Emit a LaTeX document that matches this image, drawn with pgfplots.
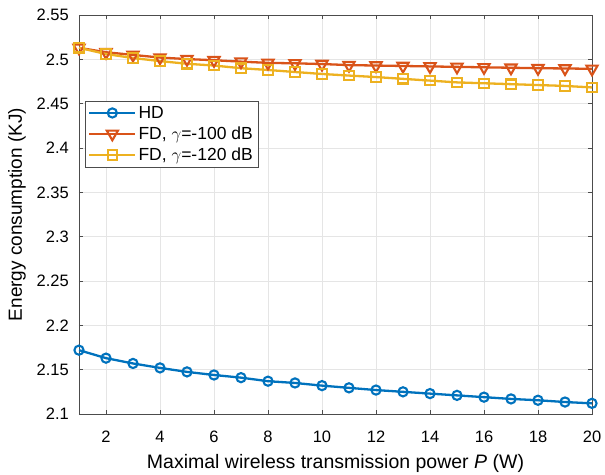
\documentclass[border=0pt]{standalone}
\usepackage{pgfplots}
\pgfplotsset{compat=1.18}
\usepackage{fontspec}
\setmainfont{Liberation Sans}
\definecolor{c1}{rgb}{0,0.447,0.741}
\definecolor{c2}{rgb}{0.85,0.325,0.098}
\definecolor{c3}{rgb}{0.929,0.694,0.125}
\begin{document}
\begin{tikzpicture}
\begin{axis}[
  at={(0pt,0pt)}, anchor=south west,
  width=513pt, height=399pt, scale only axis,
  xmin=1, xmax=20, ymin=2.1, ymax=2.55,
  xtick={2,4,...,20},
  ytick={2.1,2.15,...,2.55},
  yticklabels={2.1,2.15,2.2,2.25,2.3,2.35,2.4,2.45,2.5,2.55},
  /pgf/number format/assume math mode=true,
  ticklabel style={font=\fontsize{16.5}{18}\selectfont},
  xticklabel style={anchor=base, yshift=-28pt, inner sep=0pt},
  yticklabel style={anchor=east, inner sep=0pt, xshift=-10pt},
  xlabel={Maximal wireless transmission power \textit{P} (W)},
  ylabel={Energy consumption (KJ)},
  xlabel style={at={(axis description cs:0.5,-0.137)}, anchor=base, font=\fontsize{19.5}{21}\selectfont, inner sep=0pt},
  ylabel style={at={(axis description cs:-0.1209,0.5)}, anchor=center, rotate=0, font=\fontsize{19}{21}\selectfont, inner sep=0pt},
  grid=major, major grid style={gray!20, line width=0.8pt},
  tick align=inside, axis line style={black!70, line width=0.8pt},
  tick style={black!70, line width=0.8pt},
  legend style={at={(0.0117,0.7845)}, anchor=north west, font=\fontsize{17.5}{19}\selectfont, draw=black!70, inner sep=3pt, row sep=3pt,
    /tikz/every even column/.append style={column sep=1pt}},
  legend cell align=left,
  legend image code/.code={\draw[mark repeat=2,mark phase=2,#1] plot coordinates {(0pt,0pt)(23pt,0pt)(46pt,0pt)};},
]
\addplot[c1, line width=2.3pt, mark=o, mark size=4.6pt, mark options={line width=2.1pt}] coordinates {
(1,2.172)(2,2.163)(3,2.157)(4,2.152)(5,2.1475)(6,2.144)(7,2.141)(8,2.137)(9,2.135)(10,2.132)
(11,2.1295)(12,2.127)(13,2.125)(14,2.123)(15,2.121)(16,2.119)(17,2.117)(18,2.1155)(19,2.1135)(20,2.112)};
\addlegendentry{HD}
\addplot[c2, line width=2.3pt, mark=triangle, mark size=6.5pt, mark options={rotate=180, line width=2.1pt}] coordinates {
(1,2.513)(2,2.508)(3,2.505)(4,2.502)(5,2.5003)(6,2.499)(7,2.4974)(8,2.496)(9,2.4955)(10,2.4947)
(11,2.4935)(12,2.493)(13,2.4925)(14,2.492)(15,2.4915)(16,2.491)(17,2.4905)(18,2.490)(19,2.4897)(20,2.4893)};
\addlegendentry{FD, $\gamma$=-100 dB}
\addplot[c3, line width=2.3pt, mark=square, mark size=4.7pt, mark options={line width=2.1pt}] coordinates {
(1,2.513)(2,2.506)(3,2.5015)(4,2.498)(5,2.495)(6,2.493)(7,2.490)(8,2.488)(9,2.4857)(10,2.4835)
(11,2.4817)(12,2.480)(13,2.478)(14,2.476)(15,2.474)(16,2.473)(17,2.472)(18,2.471)(19,2.470)(20,2.4683)};
\addlegendentry{FD, $\gamma$=-120 dB}
\end{axis}
\pgfresetboundingbox
\path[use as bounding box] (-79pt,-60pt) rectangle (526pt,414pt);
\end{tikzpicture}
\end{document}
